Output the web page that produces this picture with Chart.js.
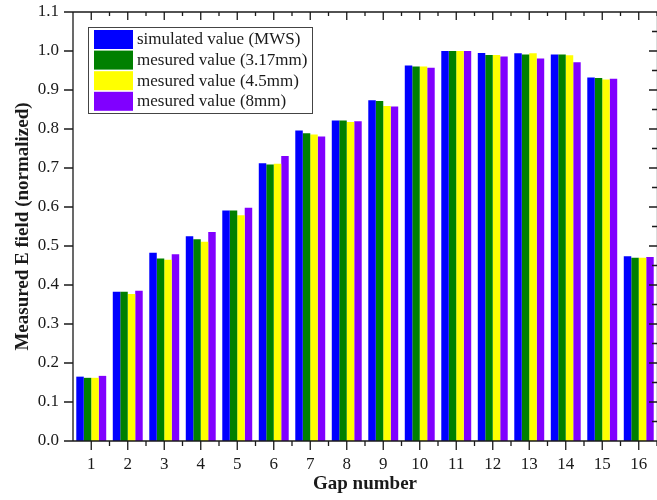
<!DOCTYPE html>
<html>
<head>
<meta charset="utf-8">
<script src="https://cdn.jsdelivr.net/npm/chart.js@4"></script>
<style>
  html, body { margin: 0; padding: 0; background: #fff; }
  #wrap { width: 657px; height: 500px; }
</style>
</head>
<body>
<div id="wrap"><canvas id="c" width="657" height="500"></canvas></div>
<script>
// Normalized E field at each gap
const gapNumbers = ['1','2','3','4','5','6','7','8','9','10','11','12','13','14','15','16'];
const simulatedMWS = [0.165, 0.383, 0.483, 0.525, 0.591, 0.712, 0.796, 0.822, 0.874, 0.963, 1.000, 0.995, 0.994, 0.991, 0.932, 0.474];
const measured317  = [0.162, 0.383, 0.468, 0.517, 0.591, 0.709, 0.789, 0.822, 0.872, 0.960, 1.000, 0.990, 0.991, 0.991, 0.931, 0.470];
const measured45   = [0.162, 0.377, 0.465, 0.511, 0.579, 0.711, 0.786, 0.818, 0.859, 0.960, 1.000, 0.990, 0.994, 0.989, 0.927, 0.470];
const measured8    = [0.167, 0.385, 0.479, 0.536, 0.598, 0.731, 0.781, 0.820, 0.858, 0.957, 1.000, 0.986, 0.981, 0.971, 0.929, 0.472];
const seriesNames  = ['simulated value (MWS)', 'mesured value (3.17mm)', 'mesured value (4.5mm)', 'mesured value (8mm)'];
const seriesColors = ['#0000ff', '#008000', '#ffff00', '#8000ff'];
const yTickStep = 0.1;

const SERIF = '"Liberation Serif", "Times New Roman", serif';
const INK = '#1a1a1a';

// Axis frame, inner/outer tick marks and the boxed legend
const framePlugin = {
  id: 'frame',
  afterDatasetsDraw(chart) {
    const { ctx, chartArea: a, scales: { x, y } } = chart;
    ctx.save();
    ctx.strokeStyle = INK;
    ctx.lineWidth = 1.3;
    ctx.beginPath();
    // left, bottom, top, right axis lines
    ctx.moveTo(a.left, a.top); ctx.lineTo(a.left, a.bottom);
    ctx.moveTo(a.left, a.bottom); ctx.lineTo(a.right, a.bottom);
    ctx.moveTo(a.left, a.top); ctx.lineTo(a.right, a.top);
    ctx.moveTo(a.right + 0.5, a.top); ctx.lineTo(a.right + 0.5, a.bottom);

    // x: major ticks at group centres, minor at group boundaries
    const half = (x.getPixelForValue(1) - x.getPixelForValue(0)) / 2;
    gapNumbers.forEach((_, i) => {
      const px = x.getPixelForValue(i);
      ctx.moveTo(px, a.bottom); ctx.lineTo(px, a.bottom + 9);
      ctx.moveTo(px, a.top); ctx.lineTo(px, a.top + 8);
      const bx = px + half;
      ctx.moveTo(bx, a.bottom); ctx.lineTo(bx, a.bottom + 5);
      ctx.moveTo(bx, a.top); ctx.lineTo(bx, a.top + 4);
    });

    // y: outward major ticks on the left, inward major+minor on the right
    y.ticks.forEach(t => {
      const py = y.getPixelForValue(t.value);
      ctx.moveTo(a.left, py); ctx.lineTo(a.left - 9, py);
      ctx.moveTo(a.right, py); ctx.lineTo(a.right - 8, py);
      const mv = t.value + yTickStep / 2;
      if (mv < y.max) {
        const my = y.getPixelForValue(mv);
        ctx.moveTo(a.right, my); ctx.lineTo(a.right - 5, my);
      }
    });
    ctx.stroke();

    // legend box
    const lx = 88, ly = 27, lw = 224, lh = 86;
    ctx.lineWidth = 1;
    ctx.strokeStyle = '#444';
    ctx.fillStyle = '#fff';
    ctx.fillRect(lx, ly, lw, lh);
    ctx.strokeRect(lx + 0.5, ly + 0.5, lw, lh);
    ctx.font = '17px ' + SERIF;
    ctx.textBaseline = 'middle';
    ctx.textAlign = 'left';
    chart.data.datasets.forEach((ds, i) => {
      const ry = 30 + i * 20.6;
      ctx.fillStyle = ds.backgroundColor;
      ctx.fillRect(94, ry, 39, 19);
      ctx.fillStyle = INK;
      ctx.fillText(ds.label, 137, ry + 10);
    });
    ctx.restore();
  }
};

new Chart(document.getElementById('c'), {
  type: 'bar',
  data: {
    labels: gapNumbers,
    datasets: [simulatedMWS, measured317, measured45, measured8].map((vals, i) => ({
      label: seriesNames[i],
      data: vals,
      backgroundColor: seriesColors[i],
      borderWidth: 0,
      categoryPercentage: 0.82,
      barPercentage: 1.0
    }))
  },
  options: {
    responsive: false,
    animation: false,
    layout: { padding: { top: 12, right: 0, left: 0, bottom: 0 } },
    plugins: { legend: { display: false }, tooltip: { enabled: false } },
    scales: {
      x: {
        grid: { display: false, drawTicks: false },
        border: { display: false },
        ticks: { color: INK, font: { family: SERIF, size: 17 }, padding: 13, maxRotation: 0 },
        title: {
          display: true, text: 'Gap number', color: INK,
          font: { family: SERIF, size: 19, weight: 'bold' },
          padding: { top: 0, bottom: 5 }
        },
        afterFit(s) { s.height = 59; s.paddingLeft = 0; s.paddingRight = 0; }
      },
      y: {
        min: 0, max: 1.1,
        grid: { display: false, drawTicks: false },
        border: { display: false },
        ticks: {
          stepSize: yTickStep, color: INK, padding: 14,
          font: { family: SERIF, size: 17 },
          callback: v => Number(v).toFixed(1)
        },
        title: {
          display: true, text: 'Measured E field (normalized)', color: INK,
          font: { family: SERIF, size: 19, weight: 'bold' },
          padding: { top: 12, bottom: 0 }
        },
        afterFit(s) { s.width = 73; s.paddingTop = 0; s.paddingBottom = 0; }
      }
    }
  },
  plugins: [framePlugin]
});
</script>
</body>
</html>
